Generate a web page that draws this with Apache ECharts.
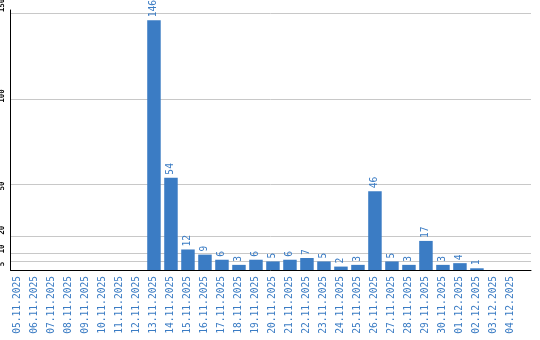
<!DOCTYPE html>
<html>
<head>
<meta charset="utf-8">
<script src="https://cdn.jsdelivr.net/npm/echarts@6/dist/echarts.min.js"></script>
<style>html,body{margin:0;padding:0;background:#fff}#c{width:540px;height:340px}</style>
</head>
<body>
<div id="c"></div>
<script>
var categories = ['05.11.2025','06.11.2025','07.11.2025','08.11.2025','09.11.2025','10.11.2025','11.11.2025','12.11.2025','13.11.2025','14.11.2025','15.11.2025','16.11.2025','17.11.2025','18.11.2025','19.11.2025','20.11.2025','21.11.2025','22.11.2025','23.11.2025','24.11.2025','25.11.2025','26.11.2025','27.11.2025','28.11.2025','29.11.2025','30.11.2025','01.12.2025','02.12.2025','03.12.2025','04.12.2025'];
var values = [0,0,0,0,0,0,0,0,146,54,12,9,6,3,6,5,6,7,5,2,3,46,5,3,17,3,4,1,0,0];
var yTicks = [5,10,20,50,100,150];

var blue = '#3b7cc4';
// label shift along the axis (px, positive = up) to mimic the reference label placement
var labelShift = {5:-2.5, 10:4, 20:5.5, 50:-1.5, 100:3, 150:8};
var rich = {};
yTicks.forEach(function(t){
  var s = labelShift[t] || 0;
  rich['t'+t] = {
    fontFamily:'DejaVu Sans Mono', fontSize:7.5, fontWeight:'bold', color:'#000',
    padding: s >= 0 ? [0,0,0,2*s] : [0,-2*s,0,0]
  };
});

var chart = echarts.init(document.getElementById('c'), null, {renderer:'canvas'});
chart.setOption({
  animation:false,
  grid:{left:10.5, right:9, top:10, bottom:70, containLabel:false, outerBoundsMode:'none'},
  xAxis:{
    type:'value', min:-0.44, max:30.18,
    splitLine:{show:false},
    axisTick:{show:false},
    axisLine:{show:true, onZero:false, lineStyle:{color:'#000', width:1}},
    axisLabel:{
      customValues: categories.map(function(c,i){return i;}),
      formatter:function(v){return categories[v] || '';},
      rotate:90, margin:6, color:blue,
      fontFamily:'DejaVu Sans Mono', fontSize:9.6
    }
  },
  yAxis:{
    type:'value', min:0, max:152,
    axisLine:{show:true, onZero:false, lineStyle:{color:'#000', width:1}},
    axisTick:{show:false, customValues:yTicks},
    splitLine:{show:true, lineStyle:{color:'#c8c8c8', width:1}},
    axisLabel:{
      customValues:yTicks, rotate:90, margin:4, color:'#000',
      fontFamily:'DejaVu Sans Mono', fontSize:7.5, fontWeight:'bold',
      formatter:function(v){return '{t'+v+'|'+v+'}';},
      rich:rich
    }
  },
  series:[{
    type:'bar',
    barWidth:13.5,
    itemStyle:{color:blue},
    data: values.map(function(v,i){return [i,v];}),
    label:{
      show:true, position:'top', rotate:90, align:'left', verticalAlign:'middle',
      distance:3, color:blue, fontFamily:'DejaVu Sans Mono', fontSize:9.6,
      formatter:function(p){return p.value[1] ? String(p.value[1]) : '';}
    }
  }]
});
</script>
</body>
</html>
